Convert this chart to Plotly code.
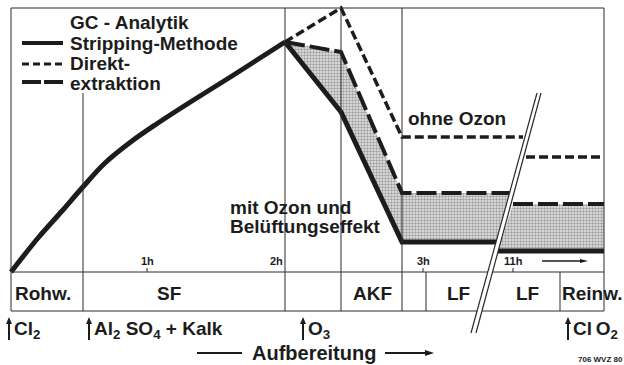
import plotly.graph_objects as go

INK = "#1c1c1c"
GRID = "#2a2a2a"
FONT = "Liberation Sans"

# Process position along the treatment train (x) and relative
# concentration (y, 0 = raw water level at the time axis).

# Stripping method (solid)
strip_x = [11, 38, 62, 82, 105, 132, 158, 192, 232, 285, 341, 402, 497]
strip_y = [0, 34, 61, 84, 109, 131, 149, 171, 196, 230, 160, 30, 30]
strip_late_x = [498, 604]
strip_late_y = [21, 21]
peak_index = 9  # rise through the sand filter ends here

# Direct extraction, with ozone (long dash)
direct_x = [285, 341, 402, 510]
direct_y = [230, 220, 79, 79]
direct_late_x = [513, 604]
direct_late_y = [68, 68]

# Direct extraction, without ozone (short dash)
noozone_x = [285, 341, 402, 523]
noozone_y = [230, 264, 135, 135]
noozone_late_x = [526, 604]
noozone_late_y = [115, 115]

# Time axis
time_ticks = [147, 423, 513]
time_tick_labels = ["1h", "3h", "11h"]
time_label_2h = ("2h", 276)

# Treatment stages (box row)
stage_labels = ["Rohw.", "SF", "AKF", "LF", "LF", "Reinw."]
stage_centers = [43, 169, 372, 458, 527, 592]

# Dosing points
dosing_labels = ["Cl<sub>2</sub>", "Al<sub>2</sub> SO<sub>4</sub> + Kalk",
                 "O<sub>3</sub>", "Cl\u2009O<sub>2</sub>"]
dosing_x = [9, 89, 303, 568]

# Frame geometry
frame_left, frame_right = 11, 604
frame_top, axis_y, row_bottom = 264, 0, -39
full_verticals = [11, 285, 341, 402, 604]
row_verticals = [426, 560]
sf_divider_x, sf_divider_top = 83, 179
break_top_y, break_bottom_y = 179, -61
break_a = (537, 471)
break_b = (541, 476)

fig = go.Figure()

# Stippled band between stripping result and direct extraction
fill_style = dict(shape=".", size=3, solidity=0.5, fgcolor="#555555", bgcolor="#e8e8e8")
band_x = direct_x + strip_x[peak_index:][::-1]
band_y = direct_y + strip_y[peak_index:][::-1]
fig.add_trace(go.Scatter(x=band_x, y=band_y, fill="toself", mode="none",
                         fillcolor="rgba(0,0,0,0)", fillpattern=fill_style, hoverinfo="skip"))
band2_x = direct_late_x + strip_late_x[::-1]
band2_y = direct_late_y + strip_late_y[::-1]
fig.add_trace(go.Scatter(x=band2_x, y=band2_y, fill="toself", mode="none",
                         fillcolor="rgba(0,0,0,0)", fillpattern=fill_style, hoverinfo="skip"))

solid = dict(color=INK, width=5)
long_dash = dict(color=INK, width=4, dash="20px,5px")
short_dash = dict(color=INK, width=3.5, dash="9px,4px")

for xs, ys, ln in [(noozone_x, noozone_y, short_dash),
                   (noozone_late_x, noozone_late_y, short_dash),
                   (direct_x, direct_y, long_dash),
                   (direct_late_x, direct_late_y, long_dash),
                   (strip_x[peak_index:], strip_y[peak_index:], solid),
                   (strip_late_x, strip_late_y, solid)]:
    fig.add_trace(go.Scatter(x=xs, y=ys, mode="lines", line=ln, hoverinfo="skip"))
# smooth rise of the stripping curve
fig.add_trace(go.Scatter(x=strip_x[:peak_index + 1], y=strip_y[:peak_index + 1], mode="lines",
                         line=dict(color=INK, width=5, shape="spline", smoothing=1.0),
                         hoverinfo="skip"))

shapes = []
thin = dict(color=GRID, width=1)
# horizontal frame lines
for yy in [frame_top, axis_y, row_bottom]:
    shapes.append(dict(type="line", x0=frame_left, x1=frame_right, y0=yy, y1=yy,
                       line=thin, layer="above"))
for xx in full_verticals:
    shapes.append(dict(type="line", x0=xx, x1=xx, y0=row_bottom, y1=frame_top,
                       line=thin, layer="above"))
for xx in row_verticals:
    shapes.append(dict(type="line", x0=xx, x1=xx, y0=row_bottom, y1=axis_y,
                       line=thin, layer="above"))
shapes.append(dict(type="line", x0=sf_divider_x, x1=sf_divider_x, y0=row_bottom,
                   y1=sf_divider_top, line=thin, layer="above"))
# tick marks on the time axis
for tx in time_ticks:
    shapes.append(dict(type="line", x0=tx, x1=tx, y0=axis_y, y1=axis_y + 4,
                       line=thin, layer="above"))
# legend keys
shapes.append(dict(type="line", x0=22, x1=63, y0=229, y1=229, line=dict(color=INK, width=4)))
shapes.append(dict(type="line", x0=22, x1=63, y0=208, y1=208,
                   line=dict(color=INK, width=3, dash="7px,4px")))
shapes.append(dict(type="line", x0=22, x1=63, y0=190, y1=190,
                   line=dict(color=INK, width=4, dash="19px,3px")))
# lead line before "Aufbereitung"
shapes.append(dict(type="line", x0=197, x1=242, y0=-81, y1=-81, line=dict(color=INK, width=2)))


def up_arrow(x, y_tail, y_head, half=3, head=7, width=2):
    shapes.append(dict(type="line", x0=x, x1=x, y0=y_tail, y1=y_head - head + 1,
                       line=dict(color=INK, width=width)))
    shapes.append(dict(type="path",
                       path=f"M {x - half},{y_head - head} L {x + half},{y_head - head} "
                            f"L {x},{y_head} Z",
                       fillcolor=INK, line=dict(width=0)))


def right_arrow(y, x_tail, x_head, half=3, head=9, width=2):
    shapes.append(dict(type="line", x0=x_tail, x1=x_head - head + 1, y0=y, y1=y,
                       line=dict(color=INK, width=width)))
    shapes.append(dict(type="path",
                       path=f"M {x_head - head},{y - half} L {x_head - head},{y + half} "
                            f"L {x_head},{y} Z",
                       fillcolor=INK, line=dict(width=0)))


for dx in dosing_x:
    up_arrow(dx, -68, -45)
right_arrow(-81, 385, 434)
right_arrow(11, 542, 588, half=2, head=8, width=1.5)

# axis break: white band with two slanted edges
shapes.append(dict(type="path",
                   path=f"M {break_a[0]},{break_top_y} L {break_b[0]},{break_top_y} "
                        f"L {break_b[1]},{break_bottom_y} L {break_a[1]},{break_bottom_y} Z",
                   fillcolor="white", line=dict(width=0), layer="above"))
for ax0, ax1 in [break_a, break_b]:
    shapes.append(dict(type="line", x0=ax0, x1=ax1, y0=break_top_y, y1=break_bottom_y,
                       line=dict(color=GRID, width=1.2), layer="above"))

annotations = []


def text(t, x, y, size=19, xanchor="left"):
    annotations.append(dict(text=t, x=x, y=y, xref="x", yref="y", showarrow=False,
                            xanchor=xanchor, yanchor="middle",
                            font=dict(family=FONT, size=size, color=INK, weight="bold")))


text("GC - Analytik", 68, 250)
text("Stripping-Methode", 68, 229)
text("Direkt-", 68, 209)
text("extraktion", 68, 189)
text("ohne Ozon", 406, 154)
text("mit Ozon und", 228, 65)
text("Belüftungseffekt", 228, 46)

for lbl, tx in zip(time_tick_labels, time_ticks):
    text(lbl, tx, 11, size=11, xanchor="center")
text(time_label_2h[0], time_label_2h[1], 11, size=11, xanchor="center")

for lbl, cx in zip(stage_labels, stage_centers):
    text(lbl, cx, -21, xanchor="center")

for lbl, dx in zip(dosing_labels, dosing_x):
    text(lbl, dx + 3, -58)

text("Aufbereitung", 250, -81, size=20)
text("706 WVZ 80", 576, -87, size=8)

fig.update_layout(
    width=624, height=365, autosize=False,
    margin=dict(l=0, r=0, t=0, b=0),
    paper_bgcolor="white", plot_bgcolor="white",
    showlegend=False,
    xaxis=dict(range=[0, 624], visible=False, fixedrange=True),
    yaxis=dict(range=[-93, 272], visible=False, fixedrange=True),
    shapes=shapes, annotations=annotations,
)

fig.write_html("out.html")
